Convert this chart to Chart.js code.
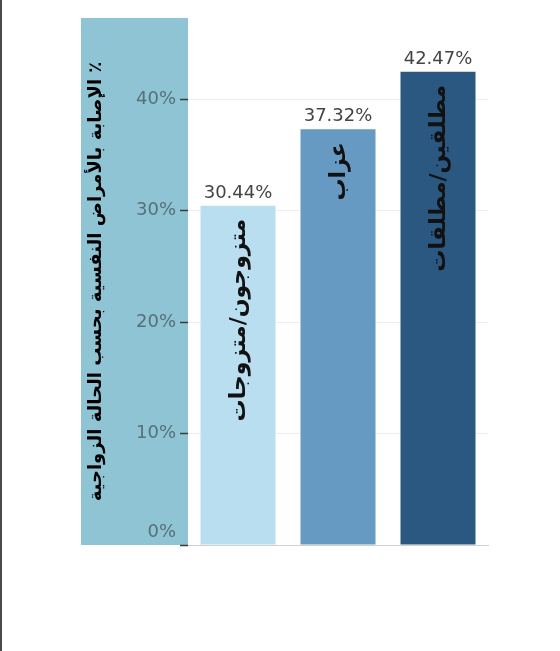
<!DOCTYPE html>
<html lang="ar">
<head>
<meta charset="utf-8">
<script src="https://cdn.jsdelivr.net/npm/chart.js@4/dist/chart.umd.min.js"></script>
<style>
  body { margin: 0; background: #fff; }
  #wrap { position: relative; width: 560px; height: 651px; }
  #wrap::before { content: ''; position: absolute; left: 0; top: 0; bottom: 0; width: 2px; background: #4a4a4a; }
</style>
</head>
<body>
<div id="wrap"><canvas id="chart" dir="rtl"></canvas></div>
<script>
// البيانات
var categories = ['متزوجون/متزوجات', 'عزاب', 'مطلقين/مطلقات'];
var values = [30.44, 37.32, 42.47];
var yTicks = [0, 10, 20, 30, 40];
var yTitle = '٪ الإصابة بالأمراض النفسية بحسب الحالة الزواجية';

var barColors = ['#b9def0', '#679ac2', '#2a5880'];
var FONT = '"DejaVu Sans", sans-serif';

// النسب فوق الأعمدة والفئات داخلها
var barLabels = {
  id: 'barLabels',
  afterDatasetsDraw: function(chart) {
    var ctx = chart.ctx;
    var meta = chart.getDatasetMeta(0);
    meta.data.forEach(function(bar, i) {
      ctx.save();
      ctx.fillStyle = '#444';
      ctx.font = '18px ' + FONT;
      ctx.textAlign = 'center';
      ctx.textBaseline = 'alphabetic';
      ctx.fillText(values[i].toFixed(2) + '%', bar.x, bar.y - 8);

      ctx.translate(bar.x + 1, bar.y + 13);
      ctx.rotate(-Math.PI / 2);
      ctx.direction = 'rtl';
      ctx.fillStyle = '#111';
      ctx.font = 'bold 22px ' + FONT;
      ctx.textAlign = 'right';
      ctx.textBaseline = 'middle';
      ctx.fillText(categories[i], 0, 0);
      ctx.restore();
    });
  }
};

var ctx = document.getElementById('chart').getContext('2d');
var chart = new Chart(ctx, {
  type: 'bar',
  data: {
    labels: categories,
    datasets: [{
      data: values,
      backgroundColor: barColors,
      borderWidth: 0,
      barPercentage: 0.75,
      categoryPercentage: 1
    }]
  },
  options: {
    responsive: true,
    maintainAspectRatio: false,
    animation: false,
    layout: { padding: { left: 81, right: 72, top: 18, bottom: 106 } },
    plugins: { legend: { display: false }, tooltip: { enabled: false } },
    scales: {
      x: {
        grid: { display: false, drawTicks: false },
        ticks: { display: false },
        border: { display: true, color: '#cfcfcf', dash: [2, 2], width: 1 }
      },
      y: {
        min: 0,
        max: 47.3,
        backgroundColor: '#8fc4d4',
        afterFit: function(scale) { scale.width = 107; },
        afterBuildTicks: function(scale) {
          scale.ticks = yTicks.map(function(v) { return { value: v }; });
        },
        border: { display: false },
        grid: {
          color: function(c) { return c.tick && c.tick.value === 0 ? 'rgba(0,0,0,0)' : '#ececec'; },
          tickColor: '#3c3c3c',
          tickLength: 8,
          tickWidth: 1.5
        },
        ticks: {
          padding: 4,
          color: '#56707a',
          font: function(c) {
            var zero = c.tick && c.tick.value === 0;
            return { family: FONT, size: 18, lineHeight: zero ? '26px' : 1.2 };
          },
          callback: function(v) { return v === 0 ? ['0%', ''] : v + '%'; }
        },
        title: {
          display: true,
          text: yTitle,
          color: '#000',
          font: { family: FONT, size: 18, weight: 'bold' },
          padding: { top: 5, bottom: 0 }
        }
      }
    }
  },
  plugins: [barLabels]
});
</script>
</body>
</html>
